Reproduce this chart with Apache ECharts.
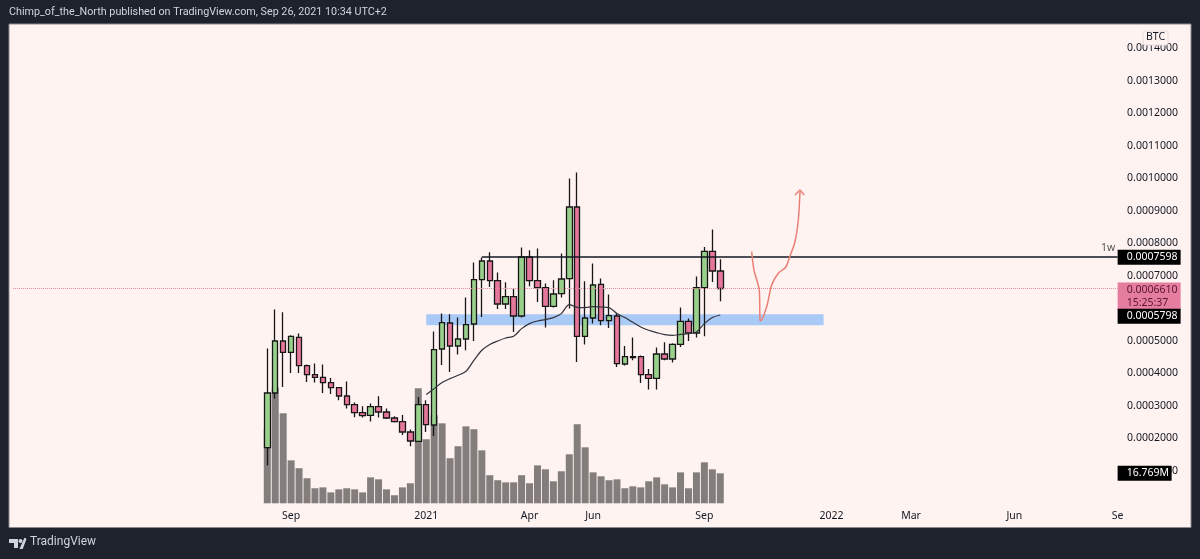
<!DOCTYPE html>
<html>
<head>
<meta charset="utf-8">
<title>BTC 1W</title>
<script src="https://cdn.jsdelivr.net/npm/echarts@6/dist/echarts.min.js"></script>
<style>
html,body{margin:0;padding:0;background:#1e222d}
#main{width:1200px;height:559px}
</style>
</head>
<body>
<div id="main"></div>
<script>
// weekly candles
var opens = [0.0001714,0.0003394,0.0004994,0.0004646,0.0005108,0.0004237,0.0003960,0.0003877,0.0003714,0.0003560,
	0.0003302,0.0003037,0.0002791,0.0002708,0.0002975,0.0002809,0.0002625,0.0002514,0.0002194,0.0001908,
	0.0003037,0.0002409,0.0004748,0.0005548,0.0004840,0.0005055,0.0005517,0.0006883,0.0007455,0.0006852,
	0.0006132,0.0006360,0.0005763,0.0007578,0.0006852,0.0006637,0.0006062,0.0006452,0.0006914,0.0009117,
	0.0005138,0.0005702,0.0006738,0.0005622,0.0005763,0.0004286,0.0004514,0.0004514,0.0003960,0.0003846,
	0.0004594,0.0004440,0.0004892,0.0005600,0.0005240,0.0006637,0.0007754,0.0007148];
var closes = [0.0003394,0.0004994,0.0004646,0.0005138,0.0004237,0.0003960,0.0003877,0.0003714,0.0003560,0.0003302,
	0.0003037,0.0002791,0.0002698,0.0002975,0.0002809,0.0002625,0.0002514,0.0002194,0.0001917,0.0003037,
	0.0002422,0.0004729,0.0005560,0.0004840,0.0005055,0.0005498,0.0006883,0.0007455,0.0006852,0.0006132,
	0.0006360,0.0005763,0.0007578,0.0006852,0.0006637,0.0006062,0.0006440,0.0006902,0.0009117,0.0005138,
	0.0005702,0.0006717,0.0005622,0.0005775,0.0004298,0.0004514,0.0004483,0.0003960,0.0003846,0.0004594,
	0.0004440,0.0004892,0.0005600,0.0005240,0.0006637,0.0007754,0.0007148,0.0006610];
var lows = [0.0001169,0.0003222,0.0003578,0.0004009,0.0004009,0.0003732,0.0003714,0.0003394,0.0003363,0.0003169,
	0.0002914,0.0002646,0.0002637,0.0002514,0.0002637,0.0002594,0.0002483,0.0002102,0.0001754,0.0001886,
	0.0002194,0.0002071,0.0004255,0.0004040,0.0004575,0.0004708,0.0004994,0.0005732,0.0006655,0.0005978,
	0.0005978,0.0005271,0.0005714,0.0006677,0.0006194,0.0005406,0.0006022,0.0006329,0.0005991,0.0004348,
	0.0004883,0.0005529,0.0005477,0.0005394,0.0004194,0.0004237,0.0004400,0.0003702,0.0003498,0.0003498,
	0.0004400,0.0004329,0.0004809,0.0004994,0.0005098,0.0005138,0.0006809,0.0006215];
var highs = [0.0004760,0.0005960,0.0005877,0.0005169,0.0005222,0.0004268,0.0004298,0.0004268,0.0003855,0.0003578,
	0.0003745,0.0003098,0.0002985,0.0003068,0.0003292,0.0002914,0.0002677,0.0002717,0.0002268,0.0003271,
	0.0003169,0.0005283,0.0005837,0.0005815,0.0005714,0.0006329,0.0007406,0.0007560,0.0007723,0.0007098,
	0.0006800,0.0006606,0.0007868,0.0007785,0.0007837,0.0006760,0.0006862,0.0007683,0.0009991,0.0010175,
	0.0006831,0.0007375,0.0006914,0.0006422,0.0005837,0.0004840,0.0005098,0.0004545,0.0004132,0.0004791,
	0.0004954,0.0004923,0.0006022,0.0005683,0.0006975,0.0007886,0.0008422,0.0007508];
// volume in millions
var volumes = [41.4,64.8,50.3,24.0,19.6,14.0,8.4,8.9,6.1,7.8,
	8.4,7.8,6.1,14.5,13.4,7.8,4.5,8.9,11.2,64.3,
	35.8,49.2,44.7,25.2,31.9,43.0,41.4,29.6,15.7,12.9,
	11.7,11.7,15.7,11.2,21.2,19.0,12.3,17.9,27.4,44.2,
	31.3,17.3,15.1,12.9,13.4,8.4,9.5,8.9,12.3,14.5,
	10.6,8.9,17.3,8.4,17.3,22.9,19.0,16.769];
// moving average, starts at the 21st candle
var maValues = ['-','-','-','-','-','-','-','-','-','-',
	'-','-','-','-','-','-','-','-','-','-',
	0.0003345,0.0003529,0.0003714,0.0003837,0.0003938,0.0004062,0.0004400,0.0004708,0.0004883,0.0004994,
	0.0005086,0.0005138,0.0005375,0.0005529,0.0005609,0.0005652,0.0005714,0.0005837,0.0006114,0.0006031,
	0.0006022,0.0006052,0.0006040,0.0006022,0.0005837,0.0005714,0.0005569,0.0005425,0.0005323,0.0005252,
	0.0005191,0.0005169,0.0005200,0.0005222,0.0005271,0.0005529,0.0005714,0.0005794];
// hand drawn arrow, [week on the axis, price]
var sketchLine = [[92.95,0.0007742],[93.24,0.0007178],[93.66,0.0006818],[93.91,0.0006563],[94.0,0.000564],[94.08,0.0005618],
	[94.84,0.0006049],[95.47,0.0006717],[96.3,0.0007077],[97.23,0.0007262],[97.77,0.0007609],[98.4,0.0008049],[98.82,0.0008717],[99.03,0.0009588]];
var sketchHead = [[98.4,0.0009486],[99.03,0.000964],[99.57,0.0009486]];
var tickDates = ['2020-09-07','2021-01-04','2021-04-05','2021-05-31','2021-09-06','2021-12-27','2022-03-07','2022-06-06','2022-09-05'];
var tickLabels = ['Sep','2021','Apr','Jun','Sep','2022','Mar','Jun','Se'];
var zonePrices = [0.0005815,0.0005477];
var levelPrice = 0.0007598;
var lastPrice = 0.0006610;
var stopPrice = 0.0005798;
var lastVolume = 16.769;

var textFont = '"Noto Sans"';
var firstCandle = 32; // empty weeks left of the first candle
var lastCandle = firstCandle + opens.length - 1;
var categories = [];
for (var i = 0; i < 140; i++) {
	categories.push(new Date(Date.UTC(2020, 0, 6 + i * 7)).toISOString().slice(0, 10));
}
var candles = [], volumeData = [], maData = [];
for (var n = 0; n < firstCandle; n++) {
	candles.push(['-', '-', '-', '-']);
	volumeData.push('-');
	maData.push('-');
}
for (var j = 0; j < opens.length; j++) {
	candles.push([opens[j], closes[j], lows[j], highs[j]]);
	volumeData.push(volumes[j]);
	maData.push(maValues[j]);
}

function priceTag(bg, color) {
	return {
		show : true,
		position : 'end',
		distance : 0,
		backgroundColor : bg,
		color : color,
		fontFamily : textFont,
		fontSize : 10.5,
		width : 45,
		align : 'left',
		padding : [ 1, 9, 1, 9 ],
		lineHeight : 13
	};
}

var option = {
	animation : false,
	backgroundColor : '#1e222d',
	title : {
		text : 'Chimp_of_the_North published on TradingView.com, Sep 26, 2021 10:34 UTC+2',
		left : 9,
		top : 7,
		padding : 0,
		textStyle : {
			color : '#d1d4dc',
			fontFamily : 'Roboto',
			fontSize : 10.75,
			fontWeight : 'normal'
		}
	},
	graphic : [ {
		type : 'rect',
		z : -10,
		shape : { x : 9, y : 24, width : 1182, height : 503.5 },
		style : { fill : '#fff3f1', stroke : '#8a8a90', lineWidth : 1 }
	}, {
		type : 'text',
		z : 5,
		style : { x : 1101, y : 243, text : '1w', fill : '#555', font : '10.5px "Noto Sans"' }
	}, {
		type : 'rect',
		z : 20,
		shape : { x : 1143, y : 31, width : 25, height : 14, r : 2 },
		style : { fill : '#fff3f1', stroke : '#e6dcdc', lineWidth : 1 }
	}, {
		type : 'text',
		z : 21,
		style : { x : 1146, y : 32, text : 'BTC', fill : '#131722', font : '10.5px "Noto Sans"' }
	}, {
		type : 'polygon',
		shape : { points : [ [ 9, 539 ], [ 18, 539 ], [ 18, 548 ], [ 14, 548 ], [ 14, 543 ], [ 9, 543 ] ] },
		style : { fill : '#d1d4dc' }
	}, {
		type : 'circle',
		shape : { cx : 20.5, cy : 541, r : 2 },
		style : { fill : '#d1d4dc' }
	}, {
		type : 'polygon',
		shape : { points : [ [ 21, 548 ], [ 25, 539 ], [ 26, 539 ], [ 25.5, 539 ], [ 25.5, 539 ], [ 22, 548 ] ] },
		style : { fill : '#d1d4dc', stroke : '#d1d4dc', lineWidth : 2 }
	}, {
		type : 'text',
		style : { x : 30, y : 536, text : 'TradingView', fill : '#d1d4dc', font : '12px Roboto' }
	} ],
	grid : {
		left : 9,
		top : 48.3,
		width : 1112.6,
		height : 455
	},
	xAxis : [ {
		type : 'category',
		data : categories,
		boundaryGap : true,
		axisLine : { show : false },
		axisTick : { show : false },
		splitLine : { show : false },
		axisLabel : {
			interval : 0,
			margin : 7,
			color : '#131722',
			fontFamily : textFont,
			fontSize : 10.5,
			formatter : function(value) {
				var k = tickDates.indexOf(value);
				return k < 0 ? '' : tickLabels[k];
			}
		}
	}, {
		type : 'value',
		show : false,
		min : -0.5,
		max : 139.5,
		splitLine : { show : false }
	} ],
	yAxis : [ {
		type : 'value',
		position : 'right',
		min : 0,
		max : 0.0014,
		interval : 0.0001,
		axisLine : { show : false },
		axisTick : { show : false },
		splitLine : { show : false },
		axisLabel : {
			margin : 5.5,
			color : '#131722',
			fontFamily : textFont,
			fontSize : 10.5,
			formatter : function(value) {
				return value < 0.00001 ? '' : value.toFixed(7);
			}
		}
	}, {
		type : 'value',
		show : false,
		min : 0,
		max : 254.3,
		splitLine : { show : false }
	} ],
	series : [ {
		name : 'Volume',
		type : 'bar',
		z : 1,
		xAxisIndex : 0,
		yAxisIndex : 1,
		data : volumeData,
		barWidth : 7,
		itemStyle : { color : '#837e7c' },
		markLine : {
			silent : true,
			symbol : 'none',
			lineStyle : { width : 0 },
			data : [ [ {
				xAxis : lastCandle,
				yAxis : lastVolume,
				label : Object.assign(priceTag('#000000', '#ffffff'), {
					formatter : lastVolume + 'M',
					width : 36
				})
			}, {
				xAxis : 139,
				yAxis : lastVolume
			} ] ]
		}
	}, {
		name : 'Levels',
		type : 'line',
		z : 2,
		xAxisIndex : 0,
		yAxisIndex : 0,
		data : [],
		markArea : {
			silent : true,
			itemStyle : { color : '#a9c9f6' },
			data : [ [ { xAxis : 52, yAxis : zonePrices[0] }, { xAxis : 102, yAxis : zonePrices[1] } ] ]
		},
		markLine : {
			silent : true,
			symbol : 'none',
			data : [ [ {
				xAxis : 59,
				yAxis : levelPrice,
				lineStyle : { color : '#131722', width : 1.5, type : 'solid' },
				label : Object.assign(priceTag('#000000', '#ffffff'), { formatter : levelPrice.toFixed(7), offset : [ 0, 1 ] })
			}, {
				xAxis : 139,
				yAxis : levelPrice
			} ], [ {
				xAxis : 0,
				yAxis : lastPrice,
				lineStyle : { color : '#e08a9f', width : 1, type : 'dotted' },
				label : Object.assign(priceTag('#e57d9f', '#5c1430'), { formatter : lastPrice.toFixed(7) + '\n15:25:37', offset : [ 0, 8 ] })
			}, {
				xAxis : 139,
				yAxis : lastPrice
			} ], [ {
				xAxis : 138,
				yAxis : stopPrice,
				lineStyle : { width : 0 },
				label : Object.assign(priceTag('#000000', '#ffffff'), { formatter : stopPrice.toFixed(7), offset : [ 0, 1.5 ] })
			}, {
				xAxis : 139,
				yAxis : stopPrice
			} ] ]
		}
	}, {
		name : 'Price',
		type : 'candlestick',
		z : 4,
		xAxisIndex : 0,
		yAxisIndex : 0,
		data : candles,
		barWidth : 6,
		itemStyle : {
			color : '#98d08c',
			color0 : '#e5779b',
			borderColor : '#161616',
			borderColor0 : '#161616',
			borderWidth : 1.3
		}
	}, {
		name : 'MA',
		type : 'line',
		z : 5,
		xAxisIndex : 0,
		yAxisIndex : 0,
		data : maData,
		connectNulls : false,
		smooth : 0.3,
		symbol : 'none',
		lineStyle : { color : '#33333c', width : 1.2 }
	}, {
		name : 'Sketch',
		type : 'line',
		z : 6,
		xAxisIndex : 1,
		yAxisIndex : 0,
		data : sketchLine,
		smooth : 0.3,
		symbol : 'none',
		lineStyle : { color : '#ea7f76', width : 1.5 }
	}, {
		name : 'SketchHead',
		type : 'line',
		z : 6,
		xAxisIndex : 1,
		yAxisIndex : 0,
		data : sketchHead,
		symbol : 'none',
		lineStyle : { color : '#ea7f76', width : 1.5 }
	} ]
};

var myChart = echarts.init(document.getElementById('main'));
myChart.setOption(option, true);
</script>
</body>
</html>
